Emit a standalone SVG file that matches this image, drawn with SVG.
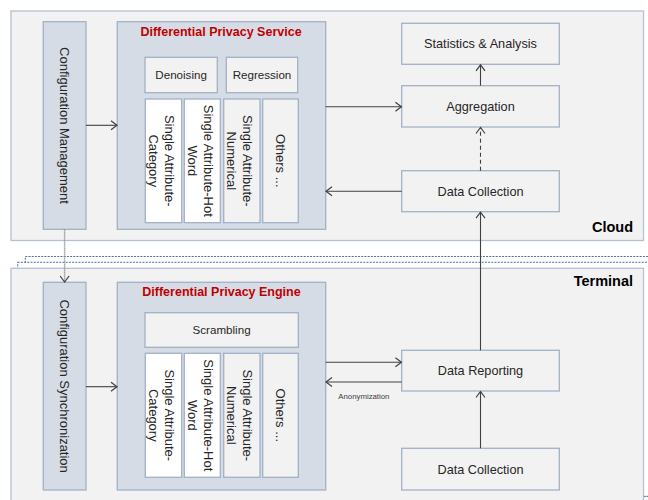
<svg xmlns="http://www.w3.org/2000/svg" width="648" height="500" viewBox="0 0 648 500">
<defs>
<style>
.container{fill:#f2f2f2;stroke:#b4c1d3;stroke-width:1.3}
.layer{fill:#ffffff;stroke:#3b5f99;stroke-width:0.9;stroke-dasharray:2 1.2}
.blue{fill:#d6dce5;stroke:#a3b1c6;stroke-width:1.3}
.light{fill:#f2f2f2;stroke:#a3b1c6;stroke-width:1.3}
.white{fill:#ffffff;stroke:#a3b1c6;stroke-width:1.3}
text{font-family:"Liberation Sans",Arial,sans-serif;fill:#262626}
.t12{font-size:12.7px;text-anchor:middle}
.t11{font-size:11.6px;text-anchor:middle}
.v13{font-size:13px;text-anchor:middle}
.title{font-size:12.5px;font-weight:bold;fill:#c00000;text-anchor:middle}
.zone{font-size:14.5px;font-weight:bold;fill:#000;text-anchor:end}
.small{font-size:7.8px;fill:#404040}
.ln{stroke:#404040;stroke-width:1.1;fill:none}
.dash{stroke-dasharray:4 3}
.dot{stroke:#8c8c8c;stroke-width:1.4;stroke-dasharray:1.2 0.8}
</style>
<marker id="ah" viewBox="-8 -6 10 12" markerWidth="10" markerHeight="12" refX="0" refY="0" orient="auto" markerUnits="userSpaceOnUse">
<path d="M-6,-4.5 L0,0 L-6,4.5" fill="none" stroke="#404040" stroke-width="1.2"/>
</marker>
</defs>

<g id="cloud">
<rect class="container" x="11" y="11" width="632.5" height="229.5"/>
<text class="zone" x="633" y="232">Cloud</text>
</g>

<g id="terminal">
<rect class="layer" x="25.3" y="256.5" width="640" height="240"/>
<rect class="layer" x="17.7" y="262.3" width="640" height="234"/>
<rect class="container" x="11" y="268.3" width="632.5" height="240"/>
<text class="zone" x="633" y="286">Terminal</text>
</g>

<g id="config-management">
<rect class="blue" x="43.3" y="21.7" width="42.7" height="207.6"/>
<text class="v13" transform="translate(64.65,125.5) rotate(90)" x="0" y="4.6">Configuration Management</text>
</g>

<g id="dp-service">
<rect class="blue" x="117.3" y="21.7" width="208.4" height="207.6"/>
<text class="title" x="221" y="35.5">Differential Privacy Service</text>
</g>
<g id="denoising">
<rect class="light" x="145" y="57.3" width="72.3" height="35.4"/>
<text class="t11" x="181.1" y="79">Denoising</text>
</g>
<g id="regression">
<rect class="light" x="226.3" y="57.3" width="71.4" height="35.4"/>
<text class="t11" x="262" y="79">Regression</text>
</g>
<g id="s-category">
<rect class="white" x="145.3" y="99" width="36.4" height="123.7"/>
<text class="v13" transform="translate(163.5,160.8) rotate(90)"><tspan x="0" y="-1">Single Attribute-</tspan><tspan x="0" y="14.6">Category</tspan></text>
</g>
<g id="s-hotword">
<rect class="white" x="184.3" y="99" width="36" height="123.7"/>
<text class="v13" transform="translate(202.3,160.8) rotate(90)"><tspan x="0" y="-1.5">Single Attribute-Hot</tspan><tspan x="0" y="14.1">Word</tspan></text>
</g>
<g id="s-numerical">
<rect class="light" x="223.7" y="99" width="36.3" height="123.7"/>
<text class="v13" transform="translate(241.85,160.8) rotate(90)"><tspan x="0" y="-1">Single Attribute-</tspan><tspan x="0" y="14.6">Numerical</tspan></text>
</g>
<g id="s-others">
<rect class="light" x="262.7" y="99" width="35.6" height="123.7"/>
<text class="v13" transform="translate(280.5,160.8) rotate(90)" x="0" y="4.8">Others ...</text>
</g>

<g id="statistics">
<rect class="light" x="401.7" y="23.3" width="157.6" height="41"/>
<text class="t12" x="480.5" y="48.3">Statistics &amp; Analysis</text>
</g>
<g id="aggregation">
<rect class="light" x="401.7" y="85.7" width="157.6" height="41.3"/>
<text class="t12" x="480.5" y="110.7">Aggregation</text>
</g>
<g id="cloud-data-collection">
<rect class="light" x="401.7" y="170.7" width="157.6" height="41"/>
<text class="t12" x="480.5" y="195.6">Data Collection</text>
</g>

<g id="config-sync">
<rect class="blue" x="43.3" y="282.3" width="42.7" height="207.7"/>
<text class="v13" transform="translate(64.65,386.1) rotate(90)" x="0" y="4.6">Configuration Synchronization</text>
</g>

<g id="dp-engine">
<rect class="blue" x="117.3" y="282.3" width="208.4" height="207.7"/>
<text class="title" x="221.5" y="296">Differential Privacy Engine</text>
</g>
<g id="scrambling">
<rect class="light" x="145" y="312.7" width="153.3" height="34.6"/>
<text class="t11" x="221.6" y="334">Scrambling</text>
</g>
<g id="e-category">
<rect class="white" x="145.3" y="353.3" width="36.4" height="124"/>
<text class="v13" transform="translate(163.5,415.3) rotate(90)"><tspan x="0" y="-1">Single Attribute-</tspan><tspan x="0" y="14.6">Category</tspan></text>
</g>
<g id="e-hotword">
<rect class="white" x="184.3" y="353.3" width="36" height="124"/>
<text class="v13" transform="translate(202.3,415.3) rotate(90)"><tspan x="0" y="-1.5">Single Attribute-Hot</tspan><tspan x="0" y="14.1">Word</tspan></text>
</g>
<g id="e-numerical">
<rect class="light" x="223.7" y="353.3" width="36.3" height="124"/>
<text class="v13" transform="translate(241.85,415.3) rotate(90)"><tspan x="0" y="-1">Single Attribute-</tspan><tspan x="0" y="14.6">Numerical</tspan></text>
</g>
<g id="e-others">
<rect class="light" x="262.7" y="353.3" width="35.6" height="124"/>
<text class="v13" transform="translate(280.5,415.3) rotate(90)" x="0" y="4.8">Others ...</text>
</g>

<g id="data-reporting">
<rect class="light" x="401.7" y="350.3" width="157.6" height="40.7"/>
<text class="t12" x="480.5" y="375">Data Reporting</text>
</g>
<g id="terminal-data-collection">
<rect class="light" x="401.7" y="448.3" width="157.6" height="41.7"/>
<text class="t12" x="480.5" y="473.5">Data Collection</text>
</g>

<g id="connectors">
<line class="ln" x1="86" y1="125.3" x2="117" y2="125.3" marker-end="url(#ah)"/>
<line class="ln" x1="86" y1="386.7" x2="117" y2="386.7" marker-end="url(#ah)"/>
<line class="ln dot" x1="64.6" y1="229.5" x2="64.6" y2="282" marker-end="url(#ah)"/>
<line class="ln" x1="325.7" y1="106.7" x2="401.4" y2="106.7" marker-end="url(#ah)"/>
<line class="ln" x1="401.7" y1="191.3" x2="326" y2="191.3" marker-end="url(#ah)"/>
<line class="ln" x1="480.5" y1="85.7" x2="480.5" y2="64.8" marker-end="url(#ah)"/>
<line class="ln dash" x1="480.5" y1="170.7" x2="480.5" y2="127.5" marker-end="url(#ah)"/>
<line class="ln" x1="480.5" y1="350.3" x2="480.5" y2="212.2" marker-end="url(#ah)"/>
<line class="ln" x1="325.7" y1="362.3" x2="401.4" y2="362.3" marker-end="url(#ah)"/>
<line class="ln" x1="401.7" y1="382" x2="326" y2="382" marker-end="url(#ah)"/>
<line class="ln" x1="480.5" y1="448.3" x2="480.5" y2="391.5" marker-end="url(#ah)"/>
<text class="small" x="338.3" y="399">Anonymization</text>
</g>
</svg>
